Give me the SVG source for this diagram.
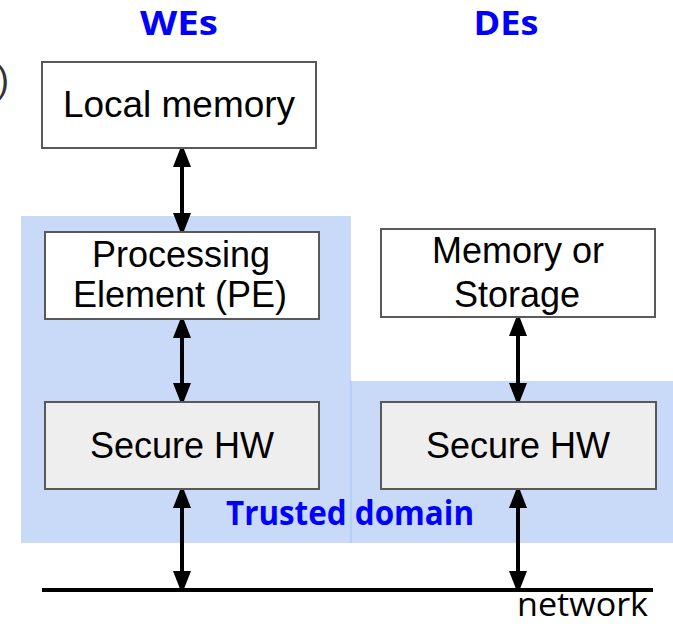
<svg xmlns="http://www.w3.org/2000/svg" width="673" height="624" viewBox="0 0 673 624">
  <defs>
    <marker id="head" viewBox="0 0 18 23" refX="18" refY="9" markerWidth="18" markerHeight="23" markerUnits="userSpaceOnUse" orient="auto-start-reverse">
      <path d="M0,0 L23,9 L0,18 Z" fill="#000"/>
    </marker>
    <style>
      .box { fill: #ffffff; stroke: #595959; stroke-width: 2; }
      .hw { fill: #eeeeee; stroke: #595959; stroke-width: 2; }
      .lbl { font-family: "Liberation Sans", Arial, sans-serif; font-size: 36px; fill: #000; text-anchor: middle; }
      .title { font-family: "Open Sans", "Noto Sans", sans-serif; font-weight: bold; font-size: 34px; fill: #0000ff; text-anchor: middle; }
      .link { stroke: #000; stroke-width: 4; fill: none; marker-start: url(#head); marker-end: url(#head); }
      .domain { fill: #c9daf8; }
    </style>
  </defs>

  <rect width="673" height="624" fill="#ffffff"/>

  <!-- cut-off bracket at the left margin -->
  <text x="-3" y="92" font-family="Liberation Sans, Arial, sans-serif" font-size="36" fill="#333">)</text>

  <!-- trusted domain background -->
  <g id="trusted-domain">
    <rect class="domain" x="21" y="216" width="330" height="327"/>
    <rect class="domain" x="351" y="381" width="322" height="162"/>
    <line x1="351" y1="381" x2="351" y2="543" stroke="#a4c2f4" stroke-width="1"/>
    <text class="title" x="350" y="525" font-size="33" textLength="248" lengthAdjust="spacingAndGlyphs">Trusted domain</text>
  </g>

  <!-- column headings -->
  <text class="title" x="179" y="35" font-size="36" textLength="78" lengthAdjust="spacingAndGlyphs">WEs</text>
  <text class="title" x="506" y="35" font-size="36" textLength="65" lengthAdjust="spacingAndGlyphs">DEs</text>

  <!-- connectors -->
  <g id="connectors">
    <line class="link" x1="182" y1="149" x2="182" y2="231"/>
    <line class="link" x1="182" y1="320" x2="182" y2="401"/>
    <line class="link" x1="182" y1="490" x2="182" y2="589"/>
    <line class="link" x1="518" y1="318" x2="518" y2="401"/>
    <line class="link" x1="518" y1="490" x2="518" y2="589"/>
  </g>

  <g id="local-memory">
    <rect class="box" x="42" y="62" width="274" height="86"/>
    <text class="lbl" x="179" y="117" textLength="232" lengthAdjust="spacingAndGlyphs">Local memory</text>
  </g>

  <g id="processing-element">
    <rect class="box" x="45" y="232" width="274" height="87"/>
    <text class="lbl" x="181" y="267">Processing</text>
    <text class="lbl" x="180" y="307">Element (PE)</text>
  </g>

  <g id="secure-hw-we">
    <rect class="hw" x="45" y="402" width="274" height="87"/>
    <text class="lbl" x="182" y="458">Secure HW</text>
  </g>

  <g id="memory-storage">
    <rect class="box" x="381" y="229" width="274" height="88"/>
    <text class="lbl" x="518" y="263">Memory or</text>
    <text class="lbl" x="517" y="307">Storage</text>
  </g>

  <g id="secure-hw-de">
    <rect class="hw" x="381" y="402" width="275" height="87"/>
    <text class="lbl" x="518" y="458">Secure HW</text>
  </g>

  <g id="network">
    <line x1="42" y1="590" x2="653" y2="590" stroke="#000" stroke-width="4"/>
    <text x="648" y="616" font-family="Open Sans, DejaVu Sans, sans-serif" font-size="32" fill="#000" text-anchor="end" textLength="131" lengthAdjust="spacingAndGlyphs">network</text>
  </g>
</svg>
